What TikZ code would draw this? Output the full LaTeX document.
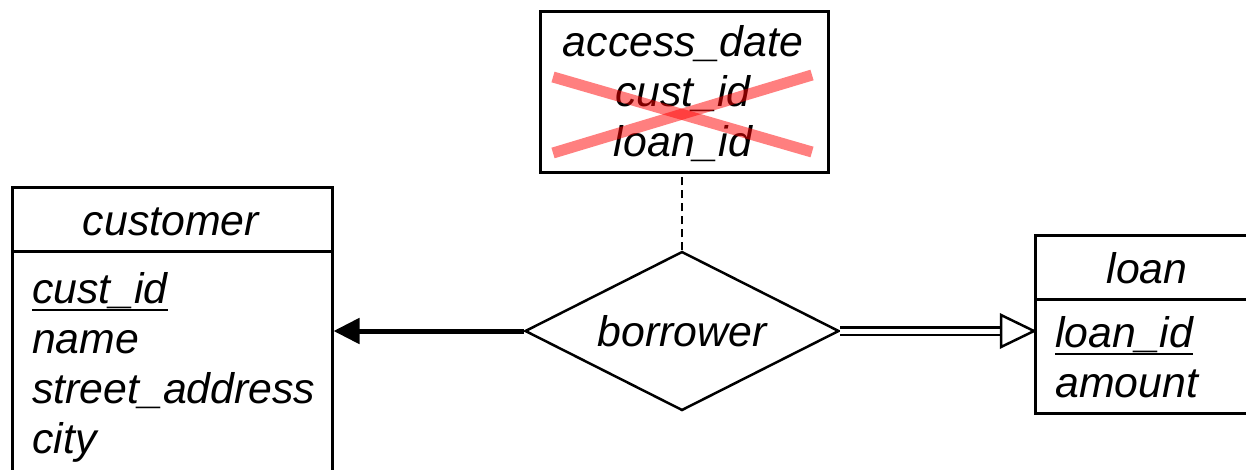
\documentclass[tikz,border=0pt]{standalone}
\usepackage{fontspec}
\setmainfont{Liberation Sans}
\usetikzlibrary{shapes.geometric,arrows.meta}
\begin{document}
\begin{tikzpicture}[x=1pt,y=-1pt,
  box/.style={draw=black,line width=2.5pt,rectangle,inner sep=0pt,anchor=north west},
  txt/.style={inner sep=0pt,font=\fontsize{42.8}{50}\selectfont\itshape},
  ul/.style={line width=2.2pt},
  cross/.style={draw=red,opacity=0.5,line width=11pt}]
\useasboundingbox (0,0) rectangle (1246,469);
% attribute box
\node[box,minimum width=288pt,minimum height=161pt] (attr) at (539,10) {};
\node[txt,anchor=base] (ad) at (683,56) {access\_date};
\node[txt,anchor=base] (ac) at (683,106) {cust\_id};
\node[txt,anchor=base] (al) at (683,156) {loan\_id};
\coordinate (x1) at (553,77); \coordinate (x2) at (812,152);
\coordinate (x3) at (553,153); \coordinate (x4) at (812,75);
\draw[cross] (x1) -- (x2);
\draw[cross] (x3) -- (x4);
% customer
\node[box,minimum width=320pt,minimum height=64pt] (custh) at (11,186) {};
\node[box,minimum width=320pt,minimum height=240pt] (custb) at (11,250) {};
\node[txt,anchor=base] (cname) at (171,235) {customer};
\node[txt,anchor=base west] (cid) at (32,303) {cust\_id};
\node[txt,anchor=base west] (cnm) at (32,353) {name};
\node[txt,anchor=base west] (cst) at (32,403) {street\_address};
\node[txt,anchor=base west] (cct) at (32,453) {city};
\draw[ul] ([yshift=-7pt]cid.base west) -- ([yshift=-7pt]cid.base east);
% loan
\node[box,minimum width=240pt,minimum height=64pt] (loanh) at (1034,234) {};
\node[box,minimum width=240pt,minimum height=114pt] (loanb) at (1034,298) {};
\node[txt,anchor=base] (lname) at (1147,283) {loan};
\node[txt,anchor=base west] (lid) at (1055,347) {loan\_id};
\node[txt,anchor=base west] (lam) at (1055,397) {amount};
\draw[ul] ([yshift=-7pt]lid.base west) -- ([yshift=-7pt]lid.base east);
% relationship
\node[draw=black,line width=2.5pt,diamond,aspect=2,inner sep=0pt,
  minimum width=314pt,minimum height=159pt,
  font=\fontsize{42.8}{50}\selectfont\itshape] (bor) at (682,331) {borrower};
% connectors
\draw[line width=2.8pt,dash pattern=on 8pt off 5pt] (bor.north) -- (attr.south -| bor.north);
\coordinate (lt) at (custb.east |- bor.west);
\draw[line width=5pt,-{Triangle[length=26pt,width=25pt]}] (bor.west) -- (lt);
\coordinate (rt) at (1001,331);
\coordinate (rtip) at (loanb.west |- bor.east);
\draw[line width=2.5pt,double,double distance=5pt] (bor.east) -- (rt);
\draw[line width=2.5pt,fill=white,line join=miter] (1001,315) -- (rtip) -- (1001,347) -- cycle;
\end{tikzpicture}
\end{document}
